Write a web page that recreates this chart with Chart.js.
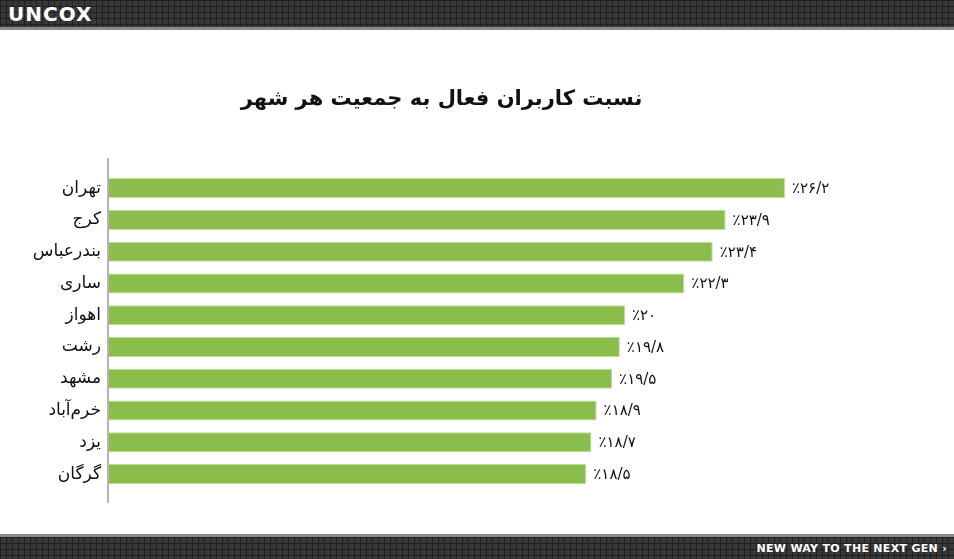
<!DOCTYPE html>
<html lang="fa">
<head>
<meta charset="utf-8">
<title>نسبت کاربران فعال به جمعیت هر شهر</title>
<script src="https://cdn.jsdelivr.net/npm/chart.js"></script>
<style>
  html, body { margin: 0; padding: 0; background: #fff; }
  body { width: 954px; height: 559px; position: relative; overflow: hidden; }
  .band {
    position: absolute; left: 0; width: 954px;
    background:
      linear-gradient(90deg, #202020 1px, transparent 1px) 0 0 / 6px 6px,
      linear-gradient(#202020 1px, transparent 1px) 0 0 / 6px 6px,
      #383838;
  }
  #header { top: 0; height: 27px; border-bottom: 3px solid #8a8a8a; }
  #footer { top: 534px; height: 22px; border-top: 3px solid #8a8a8a; }
  #logo {
    position: absolute; left: 8px; top: 2px;
    font: bold 20px "DejaVu Sans", sans-serif; letter-spacing: 1px;
    color: #fff;
  }
  #slogan {
    position: absolute; right: 7px; top: 5px;
    font: bold 11px "DejaVu Sans", sans-serif; letter-spacing: 0.3px;
    color: #fff;
  }
  #wrap { position: absolute; left: 0; top: 30px; width: 954px; height: 504px; }
</style>
</head>
<body>
<div id="header" class="band"><div id="logo">UNCOX</div></div>
<div id="wrap"><canvas id="myChart"></canvas></div>
<div id="footer" class="band"><div id="slogan">NEW WAY TO THE NEXT GEN ›</div></div>

<script>
  // شهرها و درصد کاربران فعال
  const cities = ['تهران', 'کرج', 'بندرعباس', 'ساری', 'اهواز', 'رشت', 'مشهد', 'خرم‌آباد', 'یزد', 'گرگان'];
  const activeShare = [26.2, 23.9, 23.4, 22.3, 20, 19.8, 19.5, 18.9, 18.7, 18.5];
  const chartTitle = 'نسبت کاربران فعال به جمعیت هر شهر';

  // عدد به ارقام فارسی با ممیز «/»
  const faDigits = '۰۱۲۳۴۵۶۷۸۹';
  function toFa(v) {
    return '٪' + String(v).replace(/\d/g, d => faDigits[d]).replace('.', '/');
  }

  // برچسب مقدار کنار هر میله + خط محور عمودی
  const extras = {
    id: 'extras',
    afterDatasetsDraw(chart) {
      const { ctx, chartArea } = chart;
      const meta = chart.getDatasetMeta(0);
      ctx.save();
      ctx.font = '15px "DejaVu Sans", sans-serif';
      ctx.fillStyle = '#111';
      ctx.textAlign = 'left';
      ctx.textBaseline = 'middle';
      ctx.direction = 'ltr';
      meta.data.forEach((bar, i) => {
        ctx.fillText(toFa(activeShare[i]), bar.x + 7, bar.y + 1);
      });
      ctx.strokeStyle = '#b4b4b4';
      ctx.lineWidth = 2;
      ctx.beginPath();
      ctx.moveTo(chartArea.left - 1, chartArea.top - 14);
      ctx.lineTo(chartArea.left - 1, chartArea.bottom + 13);
      ctx.stroke();
      ctx.restore();
    }
  };

  const ctx = document.getElementById('myChart').getContext('2d');
  new Chart(ctx, {
    type: 'bar',
    data: {
      labels: cities,
      datasets: [{
        data: activeShare,
        backgroundColor: '#8bbd4d',
        borderColor: '#bcdc98',
        borderWidth: 1,
        borderSkipped: 'start',
        categoryPercentage: 1,
        barPercentage: 0.63
      }]
    },
    options: {
      indexAxis: 'y',
      responsive: true,
      maintainAspectRatio: false,
      animation: false,
      events: [],
      layout: { padding: { left: 0, right: 71, top: 0, bottom: 44 } },
      scales: {
        x: { display: false, min: 0, max: 30 },
        y: {
          grid: { display: false, drawTicks: false },
          border: { display: false },
          ticks: {
            color: '#111',
            padding: 8,
            font: { family: '"DejaVu Sans", sans-serif', size: 17 }
          },
          afterFit(scale) { scale.width = 109; }
        }
      },
      plugins: {
        legend: { display: false },
        tooltip: { enabled: false },
        title: {
          display: true,
          text: chartTitle,
          color: '#111',
          font: { family: '"DejaVu Sans", sans-serif', size: 21, weight: 'bold', lineHeight: 1.2 },
          padding: { top: 57, bottom: 60 }
        }
      }
    },
    plugins: [extras]
  });
</script>
</body>
</html>
